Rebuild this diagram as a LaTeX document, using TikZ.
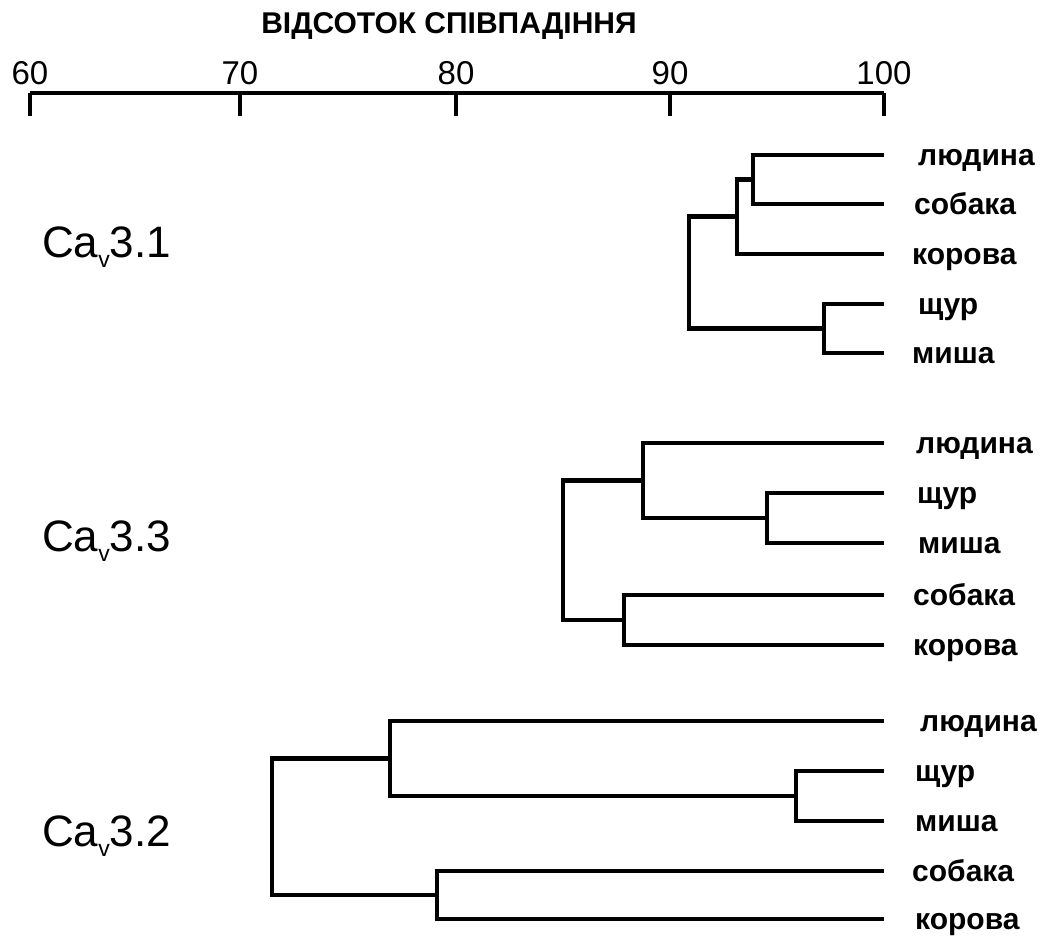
\documentclass[tikz,border=0pt]{standalone}
\usepackage{fontspec}
\setmainfont{Liberation Sans}
\usetikzlibrary{calc}
\begin{document}
\begin{tikzpicture}[x=1pt,y=-1pt,
  tree/.style={line width=4.5pt, line join=miter},
  axisline/.style={line width=4.5pt},
  leaf/.style={anchor=base west, inner sep=0pt, font=\fontsize{30}{30}\selectfont\bfseries},
  ticklab/.style={anchor=base, inner sep=0pt, font=\fontsize{33}{33}\selectfont},
  grp/.style={anchor=base west, inner sep=0pt, font=\fontsize{44}{44}\selectfont}]
\useasboundingbox (0,0) rectangle (1043,940);
\newcommand{\subv}{\raisebox{-0.24em}{\fontsize{23}{23}\selectfont v}}
% title
\node[anchor=base, inner sep=0pt, font=\fontsize{30}{30}\selectfont\bfseries] (title) at (449,33) {ВІДСОТОК СПІВПАДІННЯ};
% axis
\coordinate (t60) at (30,93);
\coordinate (t70) at (240,93);
\coordinate (t80) at (456,93);
\coordinate (t90) at (670,93);
\coordinate (t100) at (884,93);
\draw[axisline] (t60) -- (t100);
\foreach \t in {60,70,80,90,100}{
  \draw[axisline] (t\t) -- ++(0,23);
  \node[ticklab] (l\t) at ($(t\t)+(0,-9)$) {\t};
}
% ---- cluster Ca_v3.1
\coordinate (a1) at (884,155);
\coordinate (a2) at (884,204);
\coordinate (a3) at (884,254);
\coordinate (a4) at (884,304);
\coordinate (a5) at (884,353);
\coordinate (j12) at (753,179.5);
\coordinate (j123) at (737,216.5);
\coordinate (j45) at (824,328.5);
\coordinate (r1) at (689,272.5);
\draw[tree] (a1) -| (j12) |- (a2);
\draw[tree] (j12) -| (j123) |- (a3);
\draw[tree] (a4) -| (j45) |- (a5);
\draw[tree] (j123) -| (r1) |- (j45);
\node[leaf] (n1) at (918,165) {людина};
\node[leaf] (n2) at (914,214) {собака};
\node[leaf] (n3) at (912,264) {корова};
\node[leaf] (n4) at (918,314) {щур};
\node[leaf] (n5) at (912,363) {миша};
\node[grp] (g1) at (42,257) {Ca\subv3.1};
% ---- cluster Ca_v3.3
\coordinate (b1) at (884,443);
\coordinate (b2) at (884,493);
\coordinate (b3) at (884,543);
\coordinate (b4) at (884,595);
\coordinate (b5) at (884,645);
\coordinate (k23) at (767,518);
\coordinate (k123) at (643,480.5);
\coordinate (k45) at (624,620);
\coordinate (r2) at (563,550);
\draw[tree] (b2) -| (k23) |- (b3);
\draw[tree] (b1) -| (k123) |- (k23);
\draw[tree] (b4) -| (k45) |- (b5);
\draw[tree] (k123) -| (r2) |- (k45);
\node[leaf] (m1) at (916,453) {людина};
\node[leaf] (m2) at (917,503) {щур};
\node[leaf] (m3) at (918,553) {миша};
\node[leaf] (m4) at (913,605) {собака};
\node[leaf] (m5) at (913,655) {корова};
\node[grp] (g2) at (42,551) {Ca\subv3.3};
% ---- cluster Ca_v3.2
\coordinate (c1) at (884,721);
\coordinate (c2) at (884,771);
\coordinate (c3) at (884,821);
\coordinate (c4) at (884,871);
\coordinate (c5) at (884,919);
\coordinate (p23) at (796,796);
\coordinate (p123) at (390,758.5);
\coordinate (p45) at (437,895);
\coordinate (r3) at (272,826.75);
\draw[tree] (c2) -| (p23) |- (c3);
\draw[tree] (c1) -| (p123) |- (p23);
\draw[tree] (c4) -| (p45) |- (c5);
\draw[tree] (p123) -| (r3) |- (p45);
\node[leaf] (q1) at (920,731) {людина};
\node[leaf] (q2) at (915,781) {щур};
\node[leaf] (q3) at (915,831) {миша};
\node[leaf] (q4) at (912,881) {собака};
\node[leaf] (q5) at (915,929) {корова};
\node[grp] (g3) at (42,846) {Ca\subv3.2};
\end{tikzpicture}
\end{document}
